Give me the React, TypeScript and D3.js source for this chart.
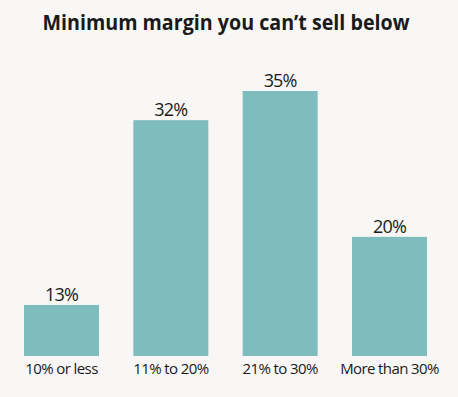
import React from 'react'
import * as d3 from 'd3'

const categories = ['10% or less', '11% to 20%', '21% to 30%', 'More than 30%']
const shares = [13, 32, 35, 20]
const valueLabels = ['13%', '32%', '35%', '20%']

const W = 458
const H = 397
const FONT = '"Open Sans", "Noto Sans", sans-serif'

export default function App() {
  // bars start from a truncated baseline, as in the original
  const x = d3.scaleBand<string>()
    .domain(categories)
    .range([24, 427])
    .paddingInner(0.314)
    .paddingOuter(0)

  const y = d3.scaleLinear()
    .domain([7.75, 35])
    .range([356, 91])

  return (
    <svg width={W} height={H} style={{ position: 'absolute', left: 0, top: 0, background: '#f8f7f5' }}>
      <rect width={W} height={H} fill="#f8f7f5" />
      <text x={226} y={30} textAnchor="middle" fontFamily={FONT} fontWeight={700}
        fontSize={21} fill="#1a1a1a" textLength={367} lengthAdjust="spacingAndGlyphs">
        Minimum margin you can’t sell below
      </text>
      {categories.map((c, i) => (
        <g key={c}>
          <rect x={x(c)} y={y(shares[i])} width={x.bandwidth()} height={y(7.75) - y(shares[i])} fill="#7fbcbd" />
          <text x={x(c)! + x.bandwidth() / 2} y={y(shares[i]) - 4} textAnchor="middle"
            fontFamily={FONT} fontSize={18} fill="#1a1a1a" letterSpacing={-0.8}>
            {valueLabels[i]}
          </text>
          <text x={x(c)! + x.bandwidth() / 2} y={374} textAnchor="middle"
            fontFamily={FONT} fontSize={15} fill="#1a1a1a" letterSpacing={-0.6}>
            {c}
          </text>
        </g>
      ))}
    </svg>
  )
}
